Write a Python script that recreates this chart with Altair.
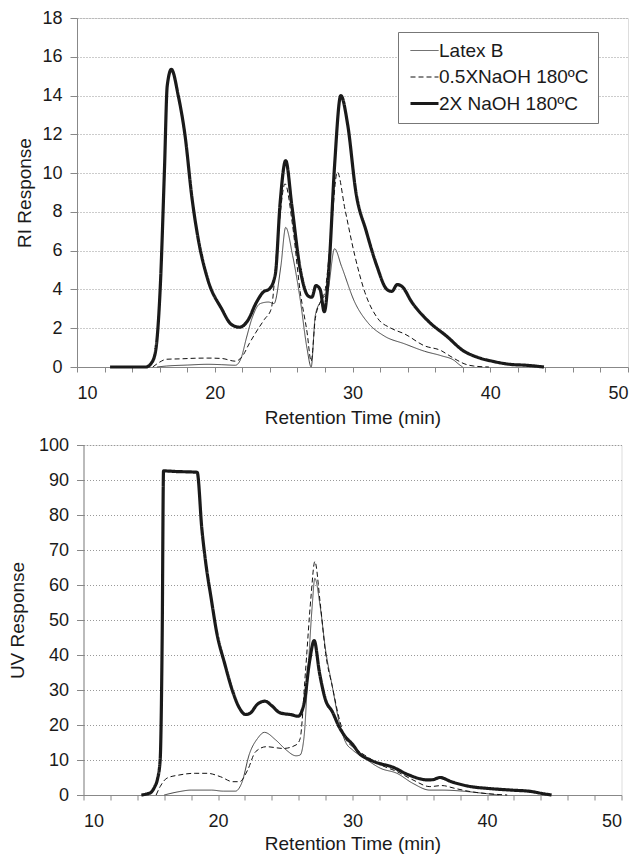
import altair as alt
import pandas as pd

series = ["Latex B", "0.5XNaOH 180ºC", "2X NaOH 180ºC"]
widths = [1.0, 1.0, 3.2]

# ---- RI chart data ----
ri_latex_t = [15.8, 16.5, 18.0, 19.5, 20.5, 21.5, 21.9, 22.3, 22.7, 23.3, 23.9, 24.3, 24.8, 25.15, 25.65, 26.2, 26.7, 27.0, 27.3, 27.7, 28.2, 28.7, 29.2, 30.17, 31.1, 32.3, 33.8, 35.24, 36.45, 37.4, 37.7, 38.0]
ri_latex_v = [0, 0.05, 0.1, 0.14, 0.12, 0.09, 0.43, 1.5, 2.5, 3.27, 3.35, 3.27, 5.2, 7.2, 5.76, 3.5, 0.95, 0, 2.66, 3.4, 3.9, 6.1, 5.2, 3.33, 2.3, 1.6, 1.19, 0.81, 0.58, 0.33, 0.15, 0]

ri_half_t = [15.5, 16.0, 16.5, 17.5, 18.5, 19.5, 20.5, 21.5, 22.0, 22.5, 23.0, 23.6, 24.1, 24.6, 25.1, 25.65, 26.2, 26.7, 27.0, 27.3, 27.7, 28.0, 28.4, 28.9, 29.45, 30.17, 30.9, 31.86, 32.8, 33.8, 35.2, 36.45, 37.0, 37.65, 38.1, 38.8, 39.9]
ri_half_v = [0, 0.25, 0.4, 0.42, 0.45, 0.46, 0.44, 0.3, 0.55, 1.2, 1.8, 2.45, 3.0, 6.8, 9.45, 7.3, 3.9, 1.8, 0.3, 2.5, 3.4, 3.9, 6.5, 10.05, 8.15, 5.74, 3.85, 2.48, 2.0, 1.7, 1.1, 0.84, 0.6, 0.33, 0.17, 0.05, 0]

ri_2x_t = [12.4, 15.0, 15.4, 15.7, 16.05, 16.35, 16.55, 16.85, 17.35, 17.85, 18.35, 18.8, 19.5, 20.5, 21.2, 21.8, 22.4, 23.0, 23.5, 24.0, 24.4, 24.75, 25.15, 25.6, 26.2, 26.8, 27.05, 27.35, 27.65, 27.95, 28.3, 28.7, 29.15, 29.65, 30.25, 31.0, 31.75, 32.5, 32.85, 33.25, 33.6, 34.3, 35.45, 36.9, 38.0, 39.0, 40.2, 41.4, 42.6, 43.9]
ri_2x_v = [0, 0, 0.2, 0.8, 4.2, 10.2, 14.5, 15.35, 14.0, 11.9, 8.7, 6.6, 4.5, 3.0, 2.2, 2.05, 2.4, 3.3, 3.85, 4.05, 4.8, 8.5, 10.65, 8.3, 5.05, 3.65, 3.6, 4.2, 4.0, 2.85, 5.2, 10.4, 14.0, 12.5, 9.0, 7.0, 5.25, 4.0, 3.9, 4.25, 4.15, 3.35, 2.4, 1.55, 0.86, 0.52, 0.29, 0.14, 0.09, 0]

# ---- UV chart data ----
uv_latex_t = [16.0, 17.1, 18.0, 19.5, 20.4, 21.3, 21.75, 22.35, 22.95, 23.45, 24.3, 25.06, 25.8, 26.1, 26.4, 26.7, 27.0, 27.2, 27.6, 28.0, 28.5, 29.0, 29.5, 30.0, 30.9, 32.1, 33.3, 34.5, 35.75, 36.65, 38.2, 39.7, 40.9]
uv_latex_v = [0, 0.95, 1.4, 1.4, 1.1, 1.1, 3.3, 11.9, 16.2, 17.9, 15.7, 12.9, 11.2, 11.4, 16.7, 35.7, 53.8, 61.9, 53.8, 41.4, 31, 21.0, 15.0, 12.9, 10.5, 7.6, 6.2, 3.3, 1.4, 1.4, 1.1, 0.5, 0]

uv_half_t = [15.4, 15.7, 16.2, 17.1, 18.3, 19.2, 20.2, 21.1, 21.6, 22.2, 22.8, 23.6, 24.85, 25.8, 26.1, 26.5, 26.9, 27.2, 27.6, 28.0, 28.5, 29.0, 29.5, 30.0, 30.9, 32.1, 33.3, 34.5, 35.75, 36.65, 37.6, 38.8, 40.3, 41.5]
uv_half_v = [0, 2.4, 4.8, 5.7, 6.2, 6.2, 5.2, 3.8, 3.8, 7.1, 12.4, 13.8, 13.3, 14.3, 16.0, 35.0, 56.0, 66.7, 54.8, 40.5, 31, 22.0, 16.0, 13.8, 11.4, 8.6, 6.7, 4.3, 2.4, 2.7, 1.9, 0.95, 0.3, 0]

uv_2x_t = [14.3, 14.6, 15.0, 15.3, 15.5, 15.7, 15.85, 15.95, 17.0, 18.0, 18.45, 18.8, 19.1, 19.5, 19.9, 20.5, 21.1, 21.6, 22.05, 22.4, 22.95, 23.5, 24.0, 24.6, 25.5, 25.96, 26.4, 26.8, 27.15, 27.55, 28.0, 28.5, 29.0, 29.5, 30.0, 30.5, 31.2, 31.96, 32.9, 34.2, 35.6, 36.0, 36.5, 37.35, 38.8, 40.0, 41.8, 43.3, 44.0, 44.8]
uv_2x_v = [0, 0.2, 0.7, 2.4, 4.5, 10, 45, 92.6, 92.4, 92.3, 92.2, 76, 66, 56, 46.5, 37.5, 29.5, 24.8, 23.0, 23.4, 26.0, 26.8, 25.5, 23.5, 22.9, 22.5, 26.2, 38, 44.1, 34.8, 27.1, 23.8, 19.5, 16.5, 14.5, 11.9, 10.2, 9.05, 8.1, 5.7, 4.3, 4.4, 5.0, 3.8, 2.4, 1.9, 1.4, 1.0, 0.5, 0]

ri_ticks = list(range(0, 19, 2))
uv_ticks = list(range(0, 101, 10))
x_ticks = list(range(10, 51, 2))

FONT = "Liberation Sans"
TXT = "#1a1a1a"
GRAY = "#888888"


def frame(pairs):
    rows = []
    for name, w, (ts, vs) in zip(series, widths, pairs):
        for t, v in zip(ts, vs):
            rows.append({"series": name, "w": w, "t": t, "v": v})
    return pd.DataFrame(rows)


def panel(df, ytitle, ydom, yticks, width, height, ext, tpad, lx, ly, xlpad, xtpad):
    leg = alt.Legend(
        orient="none", legendX=lx, legendY=ly,
        title=" ", titleOrient="left", titleFontSize=1, titlePadding=8,
        strokeColor="#777777", fillColor="white", padding=9,
        labelFont=FONT, labelFontSize=19, labelColor=TXT, labelLimit=400,
        labelExpr="datum.label + '  '",
        symbolType="stroke", symbolSize=784,
        rowPadding=6.5, labelOffset=5,
        symbolStrokeWidth=alt.ExprRef(expr="datum.value == '2X NaOH 180ºC' ? 3.2 : 1"),
    )
    x = alt.X("t:Q", scale=alt.Scale(domain=[10, 50], nice=False, zero=False),
              axis=alt.Axis(title="Retention Time (min)", values=x_ticks,
                            labelExpr="datum.value % 10 == 0 ? datum.label : ''",
                            labelOverlap=False, grid=False, tickSize=5,
                            labelPadding=xlpad, titlePadding=xtpad,
                            domainColor=GRAY, tickColor=GRAY,
                            labelFont=FONT, labelFontSize=18, labelColor=TXT,
                            titleFont=FONT, titleFontSize=19, titleFontWeight="normal",
                            titleColor=TXT))
    y = alt.Y("v:Q", scale=alt.Scale(domain=ydom, nice=False),
              axis=alt.Axis(title=ytitle, values=yticks, grid=True,
                            gridDash=[1, 2], gridColor="#999999", gridWidth=1,
                            tickSize=7, labelPadding=8, minExtent=ext, maxExtent=ext,
                            titlePadding=tpad, domainColor=GRAY, tickColor=GRAY,
                            labelFont=FONT, labelFontSize=18, labelColor=TXT,
                            titleFont=FONT, titleFontSize=19, titleFontWeight="normal",
                            titleColor=TXT))
    return alt.Chart(df).mark_line(interpolate="monotone").encode(
        x=x, y=y,
        color=alt.Color("series:N", scale=alt.Scale(domain=series, range=["#444444", "#111111", "#1a1a1a"]), legend=leg),
        strokeDash=alt.StrokeDash("series:N", scale=alt.Scale(domain=series, range=[[1, 0], [5, 3], [1, 0]]), legend=leg),
        strokeWidth=alt.StrokeWidth("w:Q", scale=None, legend=None),
        order=alt.Order("t:Q"),
    ).properties(width=width, height=height)


ri_df = frame([(ri_latex_t, ri_latex_v), (ri_half_t, ri_half_v), (ri_2x_t, ri_2x_v)])
uv_df = frame([(uv_latex_t, uv_latex_v), (uv_half_t, uv_half_v), (uv_2x_t, uv_2x_v)])

top = panel(ri_df, "RI Response", [0, 18], ri_ticks, 551, 349, 35, 8, 321, 14, 12, 6)
bottom = panel(uv_df, "UV Response", [0, 100], uv_ticks, 538, 350, 46, 10, 318, 12, 12, 4)

chart = alt.vconcat(top, bottom, spacing=7, center=True).properties(
    padding={"left": 0, "top": 0, "right": 0, "bottom": 0}
).configure_view(stroke=GRAY, strokeWidth=1).configure(background="white")

chart.save("out.html", embed_options={"renderer": "svg", "actions": False})
